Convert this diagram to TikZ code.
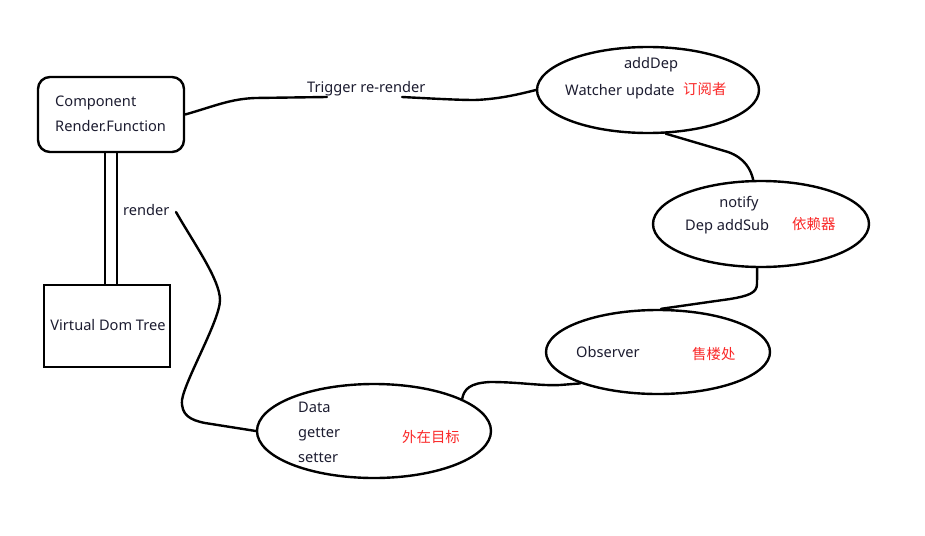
\documentclass[tikz,border=0pt]{standalone}
\usepackage{fontspec}
\usetikzlibrary{shapes.geometric}
\setmainfont{Noto Sans}
\newfontfamily\cjk{Noto Sans CJK SC}
\definecolor{txt}{RGB}{28,28,48}
\definecolor{cnred}{RGB}{250,40,40}
\begin{document}
\begin{tikzpicture}[x=1pt,y=-1pt,
  lw/.style={line width=2.4pt},
  conn/.style={lw,line cap=round,line join=round},
  oval/.style={ellipse,draw,lw,inner sep=0pt},
  lbl/.style={font=\fontsize{14.6}{16}\selectfont,text=txt,inner sep=0pt,text height=10.4pt,text depth=0pt},
  cn/.style={font=\fontsize{14.4}{16}\selectfont\cjk,text=cnred,inner sep=0pt,text height=12pt,text depth=1pt}]
\useasboundingbox[fill=white] (0,0) rectangle (925,535);
% shapes
\node[draw,lw,rounded corners=12pt,minimum width=146pt,minimum height=75pt,inner sep=0pt] (comp) at (111,114.5) {};
\node[draw,lw,minimum width=126pt,minimum height=82pt,inner sep=0pt] (vdt) at (107,326) {};
\node[oval,minimum width=222pt,minimum height=86pt] (watcher) at (648,90) {};
\node[oval,minimum width=216pt,minimum height=86pt] (dep) at (761,224) {};
\node[oval,minimum width=224pt,minimum height=84pt] (obs) at (658,352) {};
\node[oval,minimum width=234pt,minimum height=94pt] (data) at (374,431) {};
% texts
\node[lbl,anchor=west] (c1) at (55,101) {Component};
\node[lbl,anchor=west] (c2) at (55,126) {Render.Function};
\node[lbl] (v1) at (108,325) {Virtual Dom Tree};
\node[lbl,anchor=west] (rend) at (123,210) {render};
\node[lbl,anchor=west] (trig) at (307,87) {Trigger re-render};
\node[lbl] (w1) at (651,63) {addDep};
\node[lbl,anchor=west] (w2) at (565,90) {Watcher update};
\node[cn,anchor=west] (w3) at (683,89) {订阅者};
\node[lbl] (d1) at (739,202) {notify};
\node[lbl,anchor=west] (d2) at (685,225) {Dep addSub};
\node[cn,anchor=west] (d3) at (792,224) {依赖器};
\node[lbl,anchor=west] (o1) at (576,352) {Observer};
\node[cn,anchor=west] (o2) at (692,354) {售楼处};
\node[lbl,anchor=west] (a1) at (298,407) {Data};
\node[lbl,anchor=west] (a2) at (298,432) {getter};
\node[lbl,anchor=west] (a3) at (298,457) {setter};
\node[cn,anchor=west] (a4) at (402,437) {外在目标};
% free ends
\coordinate (t1) at (327,97);
\coordinate (t2) at (402,97);
\coordinate (r0) at (176,212);
% connectors
\draw[lw] (105,0 |- comp.south) -- (105,0 |- vdt.north);
\draw[lw] (117,0 |- comp.south) -- (117,0 |- vdt.north);
\draw[conn] (comp.east) .. controls (215,106) and (230,99) .. (255,98) -- (t1);
\draw[conn] (t2) .. controls (440,99) and (460,100) .. (475,100) .. controls (500,99) and (520,94) .. (watcher.west);
\draw[conn] (watcher.-68) -- (728,152) .. controls (745,158) and (751,170) .. (dep.100);
\draw[conn] (dep.-95) -- (757,284) .. controls (757,293) and (748,296) .. (730,299) -- (obs.86);
\draw[conn] (data.20) .. controls (464,389) and (470,383) .. (490,382) .. controls (520,382) and (540,386) .. (560,385) -- (obs.202);
\draw[conn] (r0) .. controls (195,245) and (220,280) .. (220,300) .. controls (220,320) and (185,380) .. (182,400) .. controls (181,415) and (190,420) .. (205,423) -- (data.west);
\end{tikzpicture}
\end{document}
